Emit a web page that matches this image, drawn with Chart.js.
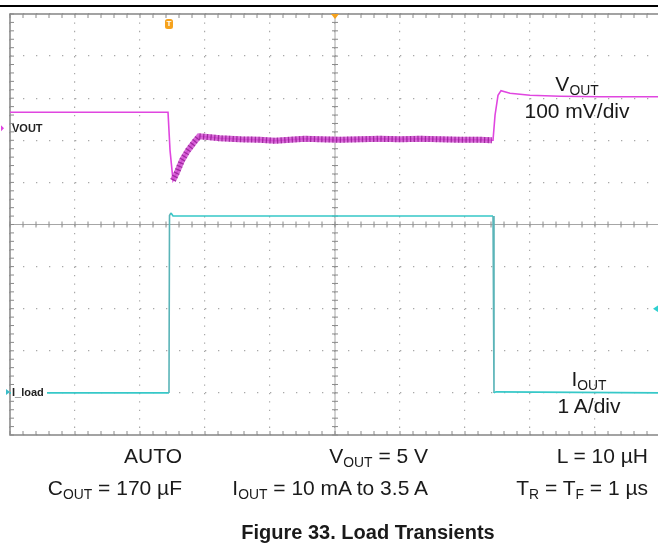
<!DOCTYPE html>
<html>
<head>
<meta charset="utf-8">
<script src="https://cdn.jsdelivr.net/npm/chart.js@4/dist/chart.umd.min.js"></script>
<style>
  html, body { margin: 0; padding: 0; background: #fff; }
  #scope {
    position: relative; width: 658px; height: 544px; overflow: hidden;
    font-family: "Liberation Sans", Arial, sans-serif; color: #1a1a1a;
  }
  #plot { position: absolute; left: 0; top: 0; }
  .txt { position: absolute; font-size: 21px; line-height: 1; white-space: nowrap; }
  .sub { font-size: 0.66em; position: relative; top: 0.32em; }
  .title { font-weight: bold; font-size: 20px; }
</style>
</head>
<body>
<div id="scope">
  <canvas id="plot" width="670" height="544"></canvas>

  <div class="txt" style="left:476px;width:202px;text-align:center;top:73px">V<span class="sub">OUT</span></div>
  <div class="txt" style="left:476px;width:202px;text-align:center;top:100px">100 mV/div</div>
  <div class="txt" style="left:489px;width:200px;text-align:center;top:368px">I<span class="sub">OUT</span></div>
  <div class="txt" style="left:489px;width:200px;text-align:center;top:395px">1 A/div</div>

  <div class="txt" style="right:476px;top:445px">AUTO</div>
  <div class="txt" style="right:230px;top:445px">V<span class="sub">OUT</span> = 5 V</div>
  <div class="txt" style="right:10px;top:445px">L = 10 µH</div>
  <div class="txt" style="right:476px;top:477px">C<span class="sub">OUT</span> = 170 µF</div>
  <div class="txt" style="right:230px;top:477px">I<span class="sub">OUT</span> = 10 mA to 3.5 A</div>
  <div class="txt" style="right:10px;top:477px">T<span class="sub">R</span> = T<span class="sub">F</span> = 1 µs</div>
  <div class="txt title" style="left:0;width:736px;text-align:center;top:522px">Figure 33. Load Transients</div>
</div>

<script>
/*global Chart*/
'use strict';

//
// Screen is 10 x 10 divisions, centre at (0, 0). Values are in divisions,
// read off the scope capture.
//
var voutX = [
  -5, -2.569, -2.538, -2.492, -2.431, -2.354, -2.262, -2.169, -2.092, -2.0,
  -1.769, -1.462, -1.154, -0.923, -0.692, -0.462, -0.231, 0.077, 0.385, 0.692,
  1.0, 1.308, 1.615, 1.923, 2.231, 2.415,
  2.431, 2.462, 2.508, 2.554, 2.692, 3.0, 3.462, 4.077, 5
];
var voutY = [
  2.667, 2.667, 1.762, 1.048, 1.238, 1.524, 1.762, 1.952, 2.095, 2.083,
  2.048, 2.024, 2.012, 1.988, 2.012, 2.036, 2.024, 2.012, 2.024, 2.036,
  2.024, 2.036, 2.024, 2.012, 2.012, 2.0,
  2.0, 2.595, 3.071, 3.179, 3.119, 3.071, 3.048, 3.036, 3.036
];

// the switching ripple makes this stretch of VOUT a thick band
var rippleFrom = -2.50;
var rippleTo = 2.42;

var iloadX = [-5, -2.554, -2.546, -2.523, -2.492, 2.431, 2.446, 2.477, 5];
var iloadY = [-4, -4, 0.214, 0.274, 0.202, 0.202, -4, -3.976, -4];

var divisions = [-5, 5];

/**
 * Zip two value lists into Chart.js points.
 *
 * @param {Array} xs
 * @param {Array} ys
 * @returns {Array} points
 */
function points(xs, ys) {
  return xs.map(function map(x, i) {
    return { x: x, y: ys[i] };
  });
}

var vout = points(voutX, voutY);
var ripple = vout.filter(function inBand(p) {
  return p.x >= rippleFrom && p.x <= rippleTo;
});

/**
 * Steep edges of the current trace are drawn a shade darker, as on the scope.
 *
 * @param {Object} ctx segment context
 * @returns {String|undefined} colour
 */
function edgeColour(ctx) {
  return Math.abs(ctx.p0.parsed.x - ctx.p1.parsed.x) < 0.03 ? '#5ab4b8' : undefined;
}

/**
 * Scope graticule: frame, centre cross, minor ticks and on-screen markers.
 */
var graticule = {
  id: 'graticule',

  beforeDatasetsDraw: function beforeDatasetsDraw(chart) {
    var ctx = chart.ctx
      , a = chart.chartArea
      , sx = chart.scales.x
      , sy = chart.scales.y
      , cx = sx.getPixelForValue(0)
      , cy = sy.getPixelForValue(0)
      , k, px, py;

    ctx.save();

    //
    // Centre cross.
    //
    ctx.strokeStyle = '#a6a6a6';
    ctx.lineWidth = 1;
    ctx.beginPath();
    ctx.moveTo(a.left, cy); ctx.lineTo(a.right, cy);
    ctx.moveTo(cx, a.top); ctx.lineTo(cx, a.bottom);
    ctx.stroke();

    //
    // Minor ticks every fifth of a division.
    //
    ctx.strokeStyle = '#8a8a8a';
    ctx.beginPath();
    for (k = 0; k <= 50; k++) {
      px = sx.getPixelForValue(divisions[0] + k * 0.2);
      py = sy.getPixelForValue(divisions[0] + k * 0.2);

      ctx.moveTo(px, a.top); ctx.lineTo(px, a.top + 4);
      ctx.moveTo(px, a.bottom); ctx.lineTo(px, a.bottom - 4);
      ctx.moveTo(px, cy - 3); ctx.lineTo(px, cy + 3);

      ctx.moveTo(a.left, py); ctx.lineTo(a.left + 4, py);
      ctx.moveTo(cx - 3, py); ctx.lineTo(cx + 3, py);
    }
    ctx.stroke();

    //
    // Outer frame.
    //
    ctx.strokeStyle = '#8c8c8c';
    ctx.lineWidth = 1.6;
    ctx.strokeRect(a.left, a.top, a.right - a.left, a.bottom - a.top);

    ctx.restore();
  },

  afterDatasetsDraw: function afterDatasetsDraw(chart) {
    var ctx = chart.ctx
      , a = chart.chartArea
      , sx = chart.scales.x
      , sy = chart.scales.y
      , tx = sx.getPixelForValue(iloadX[1])
      , yv = sy.getPixelForValue(voutY[0]) + 16
      , yi = sy.getPixelForValue(iloadY[0]) - 1;

    ctx.save();

    // page rule above the capture
    ctx.fillStyle = '#000';
    ctx.fillRect(0, 5, 658, 2);

    //
    // Trigger position and trigger level markers.
    //
    ctx.fillStyle = '#f6a21c';
    ctx.beginPath();
    ctx.roundRect(tx - 4, a.top + 5, 8, 10, 2.5);
    ctx.fill();
    ctx.fillStyle = '#fff';
    ctx.font = 'bold 8px "Liberation Sans", Arial';
    ctx.textAlign = 'center';
    ctx.textBaseline = 'middle';
    ctx.fillText('T', tx, a.top + 10);

    ctx.fillStyle = '#f6a21c';
    ctx.beginPath();
    ctx.moveTo(sx.getPixelForValue(0) - 4, a.top);
    ctx.lineTo(sx.getPixelForValue(0) + 4, a.top);
    ctx.lineTo(sx.getPixelForValue(0), a.top + 5);
    ctx.fill();

    ctx.fillStyle = '#2fd0d0';
    ctx.beginPath();
    ctx.moveTo(653, sy.getPixelForValue(-2));
    ctx.lineTo(659, sy.getPixelForValue(-2) - 4);
    ctx.lineTo(659, sy.getPixelForValue(-2) + 4);
    ctx.fill();

    //
    // Channel ground markers and names.
    //
    ctx.textAlign = 'left';
    ctx.font = 'bold 11px "Liberation Sans", Arial';

    ctx.fillStyle = '#e040e0';
    ctx.beginPath();
    ctx.moveTo(1, yv - 3); ctx.lineTo(4, yv); ctx.lineTo(1, yv + 3);
    ctx.fill();
    ctx.fillStyle = '#222';
    ctx.fillText('VOUT', 12, yv + 1);

    ctx.fillStyle = '#fff';
    ctx.fillRect(11, yi - 6, 36, 12);
    ctx.fillStyle = '#3bbcc8';
    ctx.beginPath();
    ctx.moveTo(6, yi - 3); ctx.lineTo(10, yi); ctx.lineTo(6, yi + 3);
    ctx.fill();
    ctx.fillStyle = '#222';
    ctx.fillText('I_load', 12, yi + 1);

    ctx.restore();
  }
};

/**
 * Linear scope axis without labels, dotted division lines.
 *
 * @param {Array} dash dot pattern along the grid line
 * @param {String} side 'x' or 'y'
 * @returns {Object} scale options
 */
function axis(dash, side) {
  return {
    type: 'linear',
    min: divisions[0],
    max: divisions[1],
    ticks: { display: false, stepSize: 1 },
    grid: { color: '#a8a8a8', lineWidth: 1.2, drawTicks: false },
    border: { display: false, dash: dash },
    afterFit: function afterFit(scale) {
      if (side === 'x') scale.height = 0;
      else scale.width = 0;
    }
  };
}

new Chart(document.getElementById('plot'), {
  type: 'line',
  data: {
    datasets: [
      {
        label: 'VOUT ripple streaks',
        data: ripple,
        borderColor: 'rgba(140, 25, 140, 0.75)',
        borderWidth: 6,
        borderDash: [1.3, 2.4],
        order: 0
      },
      {
        label: 'VOUT ripple',
        data: ripple,
        borderColor: 'rgba(210, 80, 210, 0.85)',
        borderWidth: 6,
        order: 1
      },
      {
        label: 'VOUT',
        data: vout,
        borderColor: '#e046e0',
        borderWidth: 1.6,
        order: 2
      },
      {
        label: 'I_load',
        data: points(iloadX, iloadY),
        borderColor: '#36c8c8',
        borderWidth: 1.6,
        segment: { borderColor: edgeColour },
        order: 3
      }
    ]
  },
  options: {
    responsive: false,
    devicePixelRatio: 1,
    animation: false,
    elements: {
      point: { radius: 0 },
      line: { tension: 0, borderCapStyle: 'butt' }
    },
    layout: { padding: { left: 10, top: 14, right: 10, bottom: 109 } },
    scales: {
      x: axis([1.3, 7.12], 'x'),
      y: axis([1.3, 11.7], 'y')
    },
    plugins: {
      legend: { display: false },
      tooltip: { enabled: false }
    }
  },
  plugins: [graticule]
});
</script>
</body>
</html>
